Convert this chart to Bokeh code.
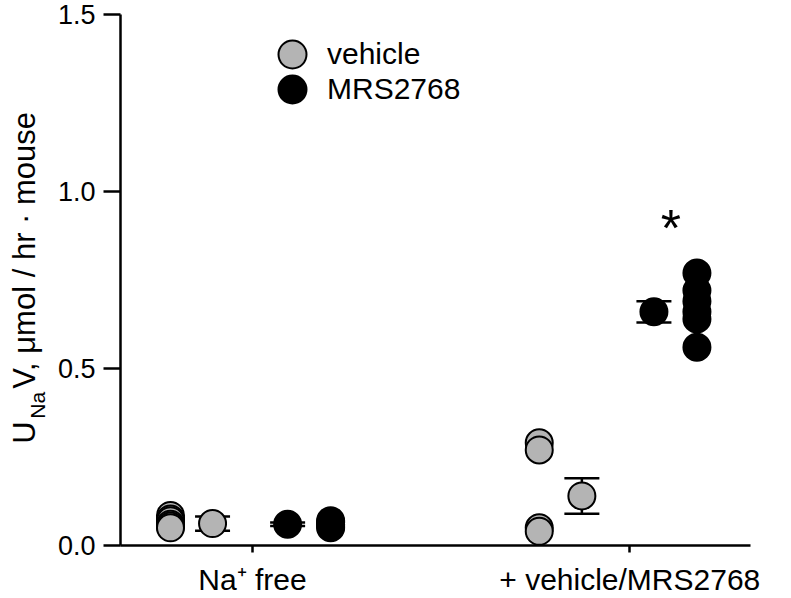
import math
from bokeh.plotting import figure
from bokeh.layouts import row
from bokeh.models import (Range1d, FixedTicker, NumeralTickFormatter, Whisker, TeeHead,
                          ColumnDataSource, Label, Legend, LegendItem)
from bokeh.embed import file_html
from bokeh.resources import INLINE

# ---------------- data ----------------
categories = ["Na\u207A free", "+ vehicle/MRS2768"]
group_pos = [1, 2]
veh_nafree = [0.085, 0.075, 0.07, 0.06, 0.055, 0.05]
mrs_nafree = [0.07, 0.065, 0.06, 0.055, 0.05]
veh_treat = [0.29, 0.27, 0.05, 0.04]
mrs_treat = [0.77, 0.72, 0.69, 0.66, 0.64, 0.56]
veh_mean = [0.062, 0.14]
veh_sem = [0.02, 0.05]
mrs_mean = [0.06, 0.66]
mrs_sem = [0.005, 0.03]
y_ticks = [0.0, 0.5, 1.0, 1.5]

# ---------------- layout / style ----------------
FONT = "Liberation Sans"
GRAY = "#b4b4b4"
dodge_veh_ind = [-0.2175, -0.24]
dodge_veh_mean = [-0.106, -0.127]
dodge_mrs_mean = [0.093, 0.064]
dodge_mrs_ind = [0.207, 0.178]
MS = 27
X0, X1 = 0.65, 2.32
Y0, Y1 = 0.0, 1.5
W_TITLE = 50
H = 598

p = figure(width=791 - W_TITLE, height=H, x_range=Range1d(X0, X1), y_range=Range1d(Y0, Y1),
           output_backend="svg", toolbar_location=None,
           min_border_left=120 - W_TITLE, min_border_right=41, min_border_top=14, min_border_bottom=52)
p.xgrid.visible = False
p.ygrid.visible = False
p.outline_line_color = None
p.background_fill_color = "white"

# axes
for ax in (p.xaxis[0], p.yaxis[0]):
    ax.axis_line_width = 2.5
    ax.axis_line_color = "black"
    ax.major_tick_line_width = 2.5
    ax.major_tick_line_color = "black"
    ax.major_tick_in = 0
    ax.minor_tick_line_color = None
    ax.major_label_text_font = FONT
    ax.major_label_text_color = "black"

p.yaxis.ticker = FixedTicker(ticks=y_ticks)
p.yaxis.formatter = NumeralTickFormatter(format="0.0")
p.yaxis.major_tick_out = 17
p.yaxis.major_label_standoff = 8
p.yaxis.major_label_text_font_size = "27px"

p.xaxis.ticker = FixedTicker(ticks=group_pos)
p.xaxis.major_label_overrides = {g: c for g, c in zip(group_pos, categories)}
p.xaxis.major_tick_out = 7
p.xaxis.major_label_standoff = 10
p.xaxis.major_label_text_font_size = "30px"

# x positions
veh_ind_x = [group_pos[0] + dodge_veh_ind[0]] * len(veh_nafree) + [group_pos[1] + dodge_veh_ind[1]] * len(veh_treat)
veh_ind_y = veh_nafree + veh_treat
mrs_ind_x = [group_pos[0] + dodge_mrs_ind[0]] * len(mrs_nafree) + [group_pos[1] + dodge_mrs_ind[1]] * len(mrs_treat)
mrs_ind_y = mrs_nafree + mrs_treat
veh_mean_x = [g + d for g, d in zip(group_pos, dodge_veh_mean)]
mrs_mean_x = [g + d for g, d in zip(group_pos, dodge_mrs_mean)]

# error bars
for mx, m, e in ((veh_mean_x, veh_mean, veh_sem), (mrs_mean_x, mrs_mean, mrs_sem)):
    src = ColumnDataSource(dict(x=mx, lo=[a - b for a, b in zip(m, e)], hi=[a + b for a, b in zip(m, e)]))
    w = Whisker(source=src, base="x", lower="lo", upper="hi", dimension="height",
                line_width=2.5, line_color="black", level="underlay",
                lower_head=TeeHead(size=35, line_width=2.5, line_color="black"),
                upper_head=TeeHead(size=35, line_width=2.5, line_color="black"))
    p.add_layout(w)

r_veh = p.scatter(veh_ind_x, veh_ind_y, size=MS, fill_color=GRAY, line_color="black", line_width=2)
r_mrs = p.scatter(mrs_ind_x, mrs_ind_y, size=MS, fill_color="black", line_color="black", line_width=2)
p.scatter(veh_mean_x, veh_mean, size=MS, fill_color=GRAY, line_color="black", line_width=2)
p.scatter(mrs_mean_x, mrs_mean, size=MS, fill_color="black", line_color="black", line_width=2)

# significance marker
p.add_layout(Label(x=group_pos[1] + 0.109, y=0.898, text="*", text_font=FONT, text_font_size="52px",
                   text_align="center", text_baseline="alphabetic", text_color="black"))

# legend (one Legend per row to get the tight row spacing)
leg_style = dict(glyph_width=70, glyph_height=70, label_standoff=0, padding=0, margin=0,
                 border_line_color=None, background_fill_alpha=0, label_text_font=FONT,
                 label_text_font_size="30px", label_text_color="black")
p.add_layout(Legend(items=[LegendItem(label="vehicle", renderers=[r_veh])], location=(137, 456), **leg_style))
p.add_layout(Legend(items=[LegendItem(label="MRS2768", renderers=[r_mrs])], location=(137, 421), **leg_style))

# ---------------- y-axis title (with subscript) in a narrow side panel ----------------
# its frame is aligned with the main frame, so it shares the main y scale
t = figure(width=W_TITLE, height=H, x_range=Range1d(0, W_TITLE), y_range=Range1d(Y0, Y1),
           output_backend="svg", toolbar_location=None, x_axis_location=None, y_axis_location=None,
           min_border=0)
t.outline_line_color = None
t.grid.visible = False
ylab = dict(angle=math.pi / 2, angle_units="rad", text_align="left",
            text_baseline="alphabetic", text_font=FONT, text_color="black")
t.add_layout(Label(x=24, y=0.2876, text="U", text_font_size="31px", **ylab))
t.add_layout(Label(x=37, y=0.358, text="Na", text_font_size="21px", **ylab))
t.add_layout(Label(x=24, y=0.4426, text="V, \u03bcmol / hr \u00b7 mouse", text_font_size="31px", **ylab))

layout = row(t, p, spacing=0)
open("out.html", "w").write(file_html(layout, INLINE))
